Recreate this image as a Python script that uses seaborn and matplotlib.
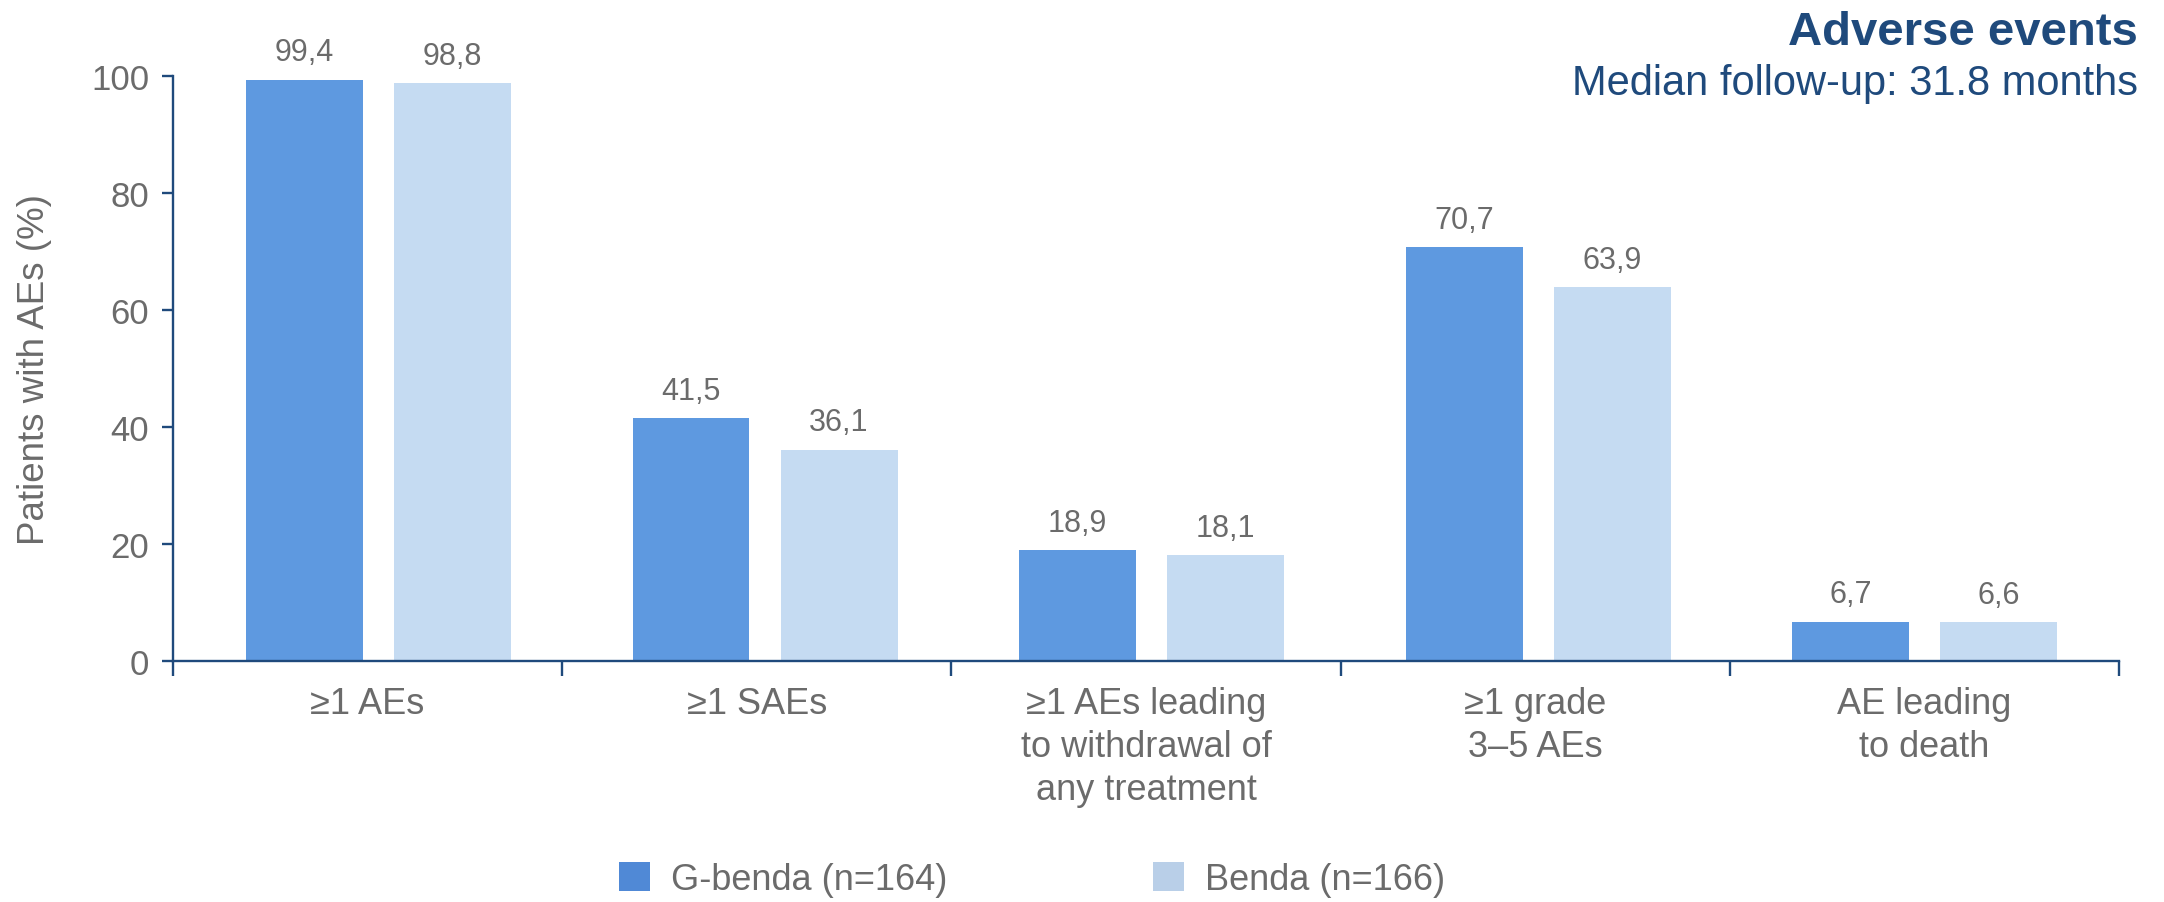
import matplotlib
matplotlib.use("Agg")
import matplotlib.pyplot as plt
from matplotlib.patches import Patch
import seaborn as sns
import numpy as np
import pandas as pd

# Data
categories = [
    "≥1 AEs",
    "≥1 SAEs",
    "≥1 AEs leading\nto withdrawal of\nany treatment",
    "≥1 grade\n3–5 AEs",
    "AE leading\nto death",
]
groups = ["G-benda (n=164)", "Benda (n=166)"]
g_benda = [99.4, 41.5, 18.9, 70.7, 6.7]
benda = [98.8, 36.1, 18.1, 63.9, 6.6]
y_ticks = [0, 20, 40, 60, 80, 100]

colors = ["#5E99E0", "#C5DBF2"]
legend_colors = ["#5089D6", "#B9CFE8"]
navy = "#1F4A7C"
grey = "#6B6B6B"

df = pd.DataFrame({
    "category": categories * 2,
    "group": [groups[0]] * len(categories) + [groups[1]] * len(categories),
    "value": g_benda + benda,
})

sns.set_theme(style="white")
plt.rcParams["font.family"] = ["Liberation Sans", "DejaVu Sans"]

fig = plt.figure(figsize=(21.64, 9.03), dpi=100)
ax = fig.add_axes([0.0799, 0.2669, 0.8993, 0.6478])

sns.barplot(data=df, x="category", y="value", hue="group", order=categories,
            hue_order=groups, palette=colors, width=0.766, gap=0.21,
            saturation=1, legend=False, ax=ax, linewidth=0)

# Value labels above each bar
for container, vals in zip(ax.containers, [g_benda, benda]):
    labels = [f"{v:.1f}".replace(".", ",") for v in vals]
    ax.bar_label(container, labels=labels, padding=9, fontsize=22,
                 color=grey, clip_on=False)

# Category bands: boundaries evenly split the x range
x0, x1 = -0.532, 4.503
ax.set_xlim(x0, x1)
bounds = np.linspace(x0, x1, len(categories) + 1)
centers = (bounds[:-1] + bounds[1:]) / 2
ax.set_xticks(centers)
ax.set_xticklabels(categories)
ax.set_xticks(bounds, minor=True)

ax.set_ylim(0, 100)
ax.set_yticks(y_ticks)
ax.set_yticklabels([str(t) for t in y_ticks])

# Axes styling
for side in ["top", "right"]:
    ax.spines[side].set_visible(False)
for side in ["left", "bottom"]:
    ax.spines[side].set_color(navy)
    ax.spines[side].set_linewidth(1.7)

ax.tick_params(axis="y", which="major", length=8, width=1.7, color=navy,
               direction="out", labelsize=25, labelcolor=grey, pad=9, left=True)
ax.tick_params(axis="x", which="major", length=0, labelsize=26,
               labelcolor=grey, pad=18)
ax.tick_params(axis="x", which="minor", length=11, width=1.7, color=navy,
               direction="out", bottom=True)
for lbl in ax.get_xticklabels():
    lbl.set_linespacing(1.3)

ax.set_xlabel("")
ax.set_ylabel("Patients with AEs (%)", fontsize=26.5, color=grey, labelpad=28)

# Title block
fig.text(0.988, 0.950, "Adverse events", ha="right", va="baseline",
         fontsize=34, fontweight="bold", color=navy)
fig.text(0.988, 0.8948, "Median follow-up: 31.8 months", ha="right",
         va="baseline", fontsize=30, color=navy)

# Legend
handles = [Patch(facecolor=c, edgecolor="none") for c in legend_colors]
fig.legend(handles, groups, loc="center", bbox_to_anchor=(0.477, 0.025),
           ncol=2, frameon=False, fontsize=26, labelcolor=grey,
           handlelength=0.86, handleheight=0.86, handletextpad=0.58,
           columnspacing=5.7)

fig.savefig("out.png", dpi=100)
